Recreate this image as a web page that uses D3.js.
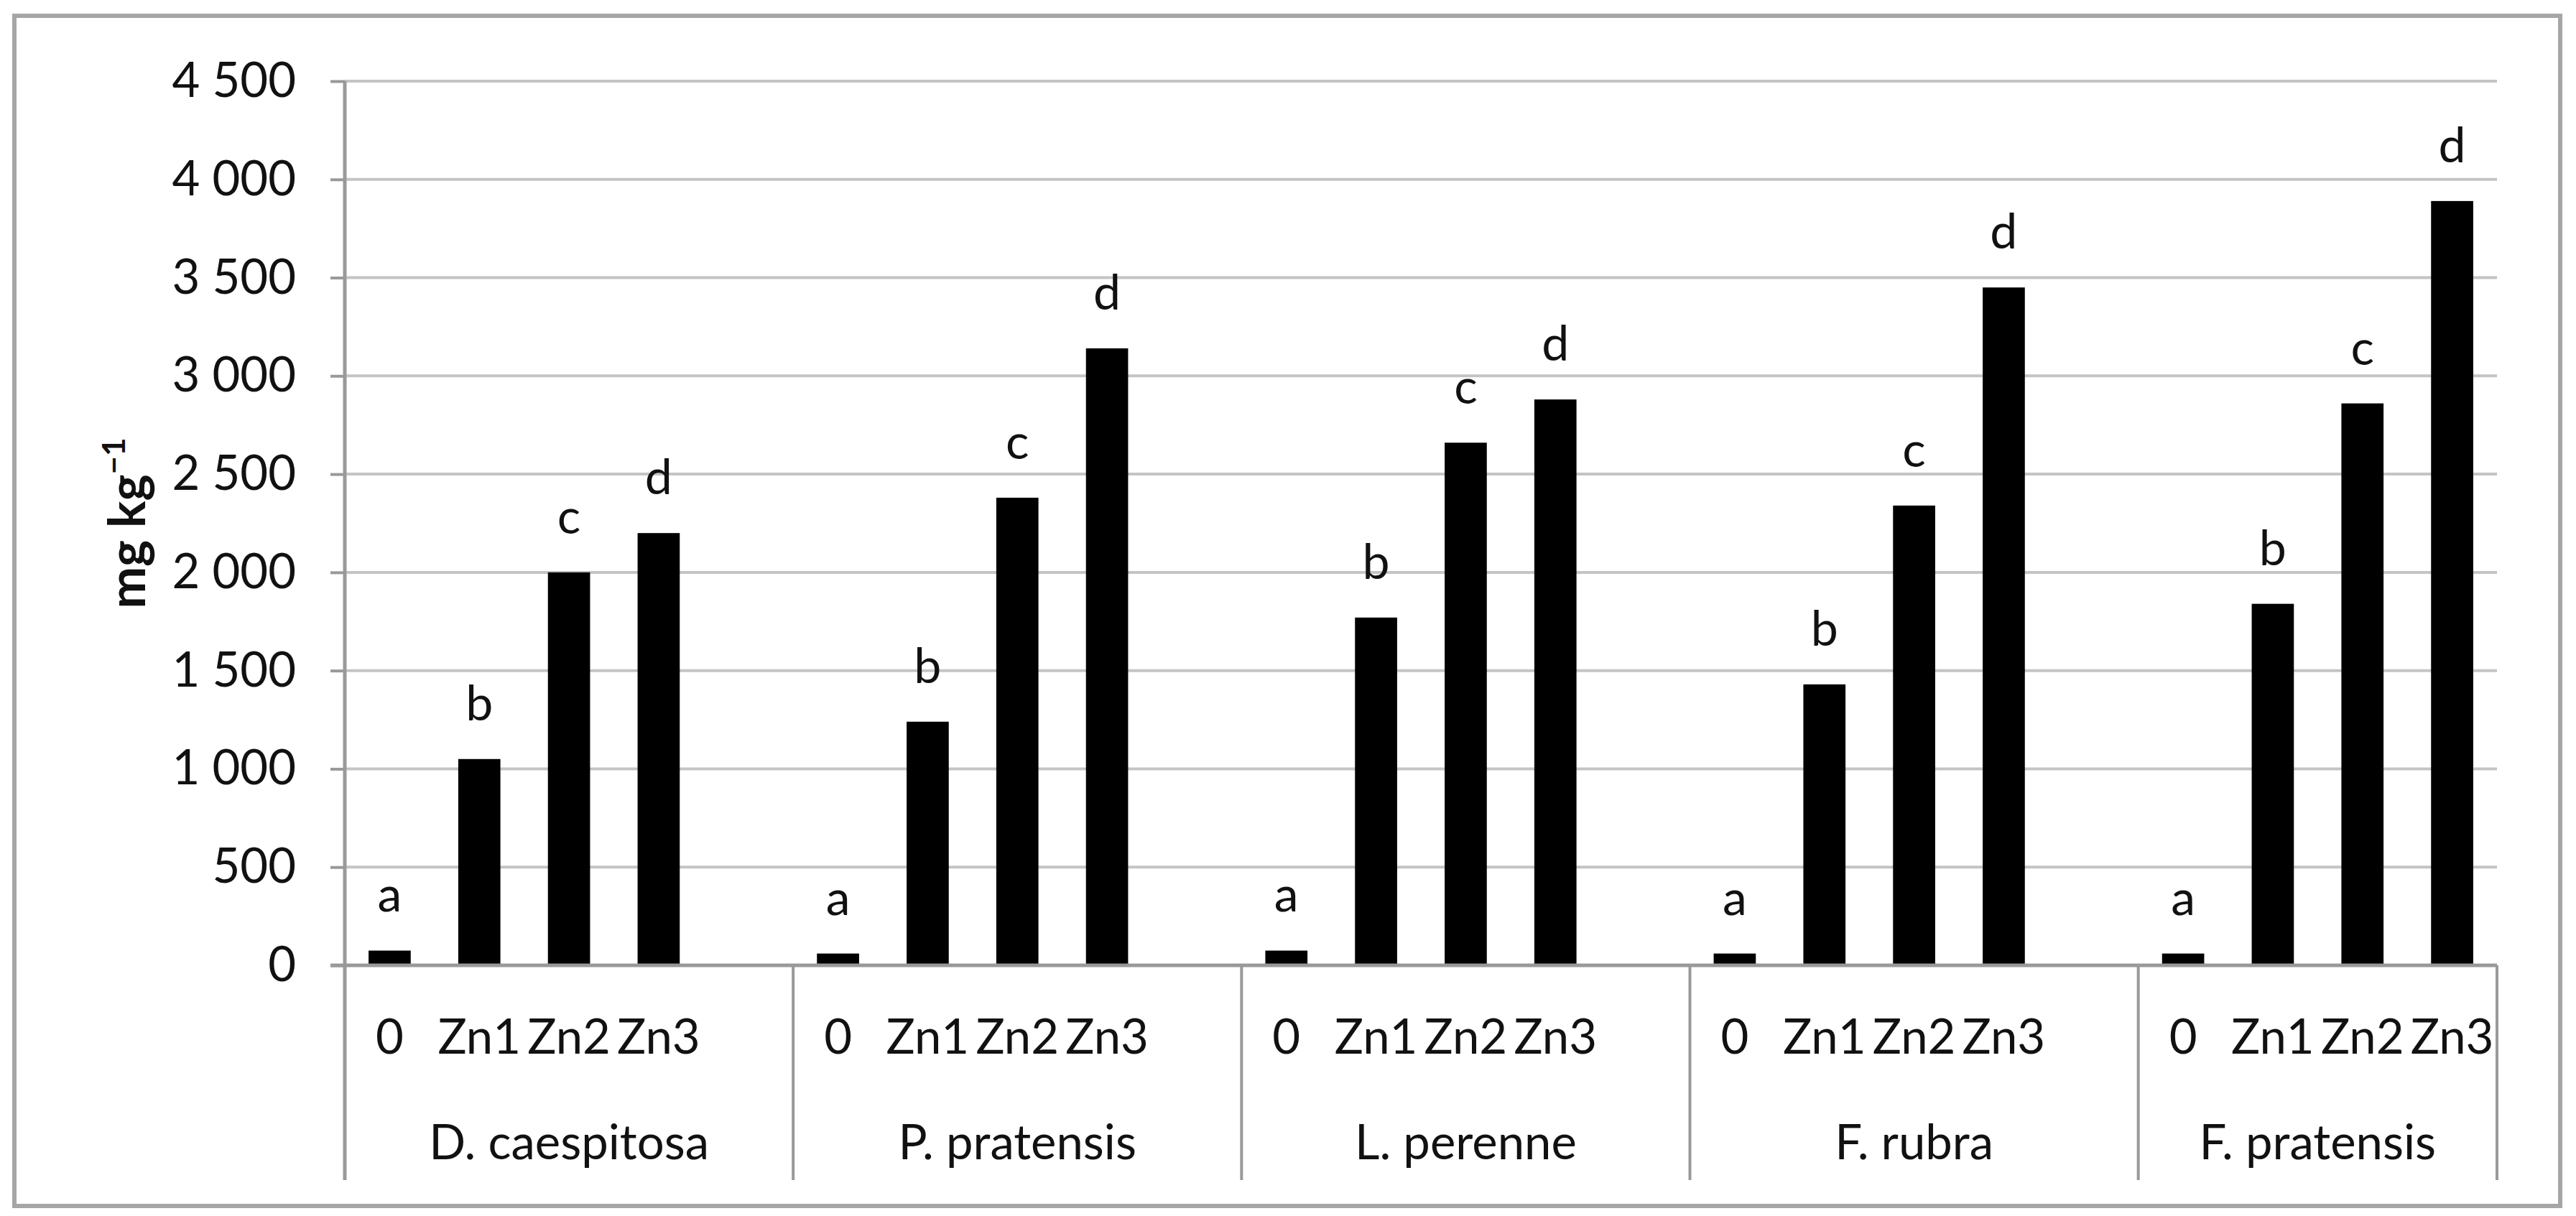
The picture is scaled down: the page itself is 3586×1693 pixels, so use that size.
<!DOCTYPE html>
<html>
<head>
<meta charset="utf-8" />
<title>Zn content</title>
<script src="https://cdn.jsdelivr.net/npm/d3@7"></script>
<style>
    body { margin: 0; background: #fff; }
    text { font-family: Lato, "Open Sans", sans-serif; fill: #111; }
</style>
</head>
<body>
</body>
<script>
    // data
    var species = ["D. caespitosa", "P. pratensis", "L. perenne", "F. rubra", "F. pratensis"]
    var treatments = ["0", "Zn1", "Zn2", "Zn3"]
    var letters = ["a", "b", "c", "d"]
    var values = [
        [75, 1050, 2000, 2200],
        [60, 1240, 2380, 3140],
        [75, 1770, 2660, 2880],
        [60, 1430, 2340, 3450],
        [60, 1840, 2860, 3890]
    ]
    var yTicks = [0, 500, 1000, 1500, 2000, 2500, 3000, 3500, 4000, 4500]

    var W = 3586, H = 1693
    var plot = { left: 480, right: 3476, top: 113, bottom: 1344 }

    var svg = d3.select("body").append("svg")
        .attr("width", W).attr("height", H)

    // outer frame
    svg.append("rect")
        .attr("x", 20).attr("y", 22)
        .attr("width", 3544).attr("height", 1657)
        .attr("fill", "none").attr("stroke", "#a6a6a6").attr("stroke-width", 6)

    // every group gets a blank slot after it, except the last one
    var slots = []
    species.forEach(function (s, gi) {
        treatments.forEach(function (t, ti) { slots.push(gi + "-" + ti) })
        if (gi < species.length - 1) slots.push(gi + "-blank")
    })

    var x = d3.scaleBand().domain(slots)
        .range([plot.left, plot.right])
        .paddingInner(0.53).paddingOuter(0.265)
    var y = d3.scaleLinear().domain([0, 4500]).range([plot.bottom, plot.top])

    // gridlines
    svg.append("g").selectAll("line").data(yTicks.slice(1)).enter().append("line")
        .attr("x1", plot.left).attr("x2", plot.right)
        .attr("y1", d => y(d)).attr("y2", d => y(d))
        .attr("stroke", "#c4c4c4").attr("stroke-width", 4)

    // y axis
    var yAxis = d3.axisLeft(y).tickValues(yTicks).tickSizeInner(20).tickSizeOuter(0).tickPadding(48)
        .tickFormat(d => d3.format(",")(d).replace(/,/g, " "))
    var gy = svg.append("g").attr("transform", "translate(" + plot.left + ",0)").call(yAxis)
    gy.select(".domain").remove()
    gy.selectAll("line").attr("stroke", "#999").attr("stroke-width", 4)
    gy.selectAll("text").style("font-size", "67px").attr("fill", "#111")

    // bars
    var bars = []
    values.forEach(function (row, gi) {
        row.forEach(function (v, ti) {
            bars.push({ key: gi + "-" + ti, value: v, letter: letters[ti] })
        })
    })
    svg.append("g").selectAll("rect").data(bars).enter().append("rect")
        .attr("x", d => x(d.key))
        .attr("width", x.bandwidth())
        .attr("y", d => y(d.value))
        .attr("height", d => y(0) - y(d.value))
        .attr("fill", "#000")

    svg.append("g").selectAll("text").data(bars).enter().append("text")
        .attr("x", d => x(d.key) + x.bandwidth() / 2)
        .attr("y", d => y(d.value) - 54)
        .attr("text-anchor", "middle")
        .style("font-size", "68px")
        .text(d => d.letter)

    // axis lines
    var lineBottom = 1643
    svg.append("line")
        .attr("x1", plot.left).attr("x2", plot.left)
        .attr("y1", plot.top).attr("y2", lineBottom)
        .attr("stroke", "#999").attr("stroke-width", 5)
    svg.append("line")
        .attr("x1", plot.left - 20).attr("x2", plot.right)
        .attr("y1", plot.bottom).attr("y2", plot.bottom)
        .attr("stroke", "#999").attr("stroke-width", 5)

    // multi-level category axis
    var step = x.step()
    var groupEdges = species.map(function (s, gi) {
        var first = x(gi + "-0") - (step - x.bandwidth()) / 2
        var n = gi < species.length - 1 ? 5 : 4
        return { name: s, x0: first, x1: first + n * step }
    })
    svg.append("g").selectAll("line").data(groupEdges).enter().append("line")
        .attr("x1", d => d.x1).attr("x2", d => d.x1)
        .attr("y1", plot.bottom).attr("y2", lineBottom)
        .attr("stroke", "#999").attr("stroke-width", 4)

    svg.append("g").selectAll("text").data(bars).enter().append("text")
        .attr("x", d => x(d.key) + x.bandwidth() / 2)
        .attr("y", 1467)
        .attr("text-anchor", "middle")
        .style("font-size", "67px")
        .text(d => treatments[+d.key.split("-")[1]])

    svg.append("g").selectAll("text").data(groupEdges).enter().append("text")
        .attr("x", d => (d.x0 + d.x1) / 2)
        .attr("y", 1614)
        .attr("text-anchor", "middle")
        .style("font-size", "67px")
        .text(d => d.name)

    // y title
    var title = svg.append("text")
        .attr("transform", "translate(202," + ((plot.top + plot.bottom) / 2) + ") rotate(-90)")
        .attr("text-anchor", "middle")
        .style("font-size", "70px").style("font-weight", "bold")
    title.append("tspan").text("mg kg")
    title.append("tspan").attr("dy", -28).style("font-size", "44px").text("−1")
</script>
</html>
